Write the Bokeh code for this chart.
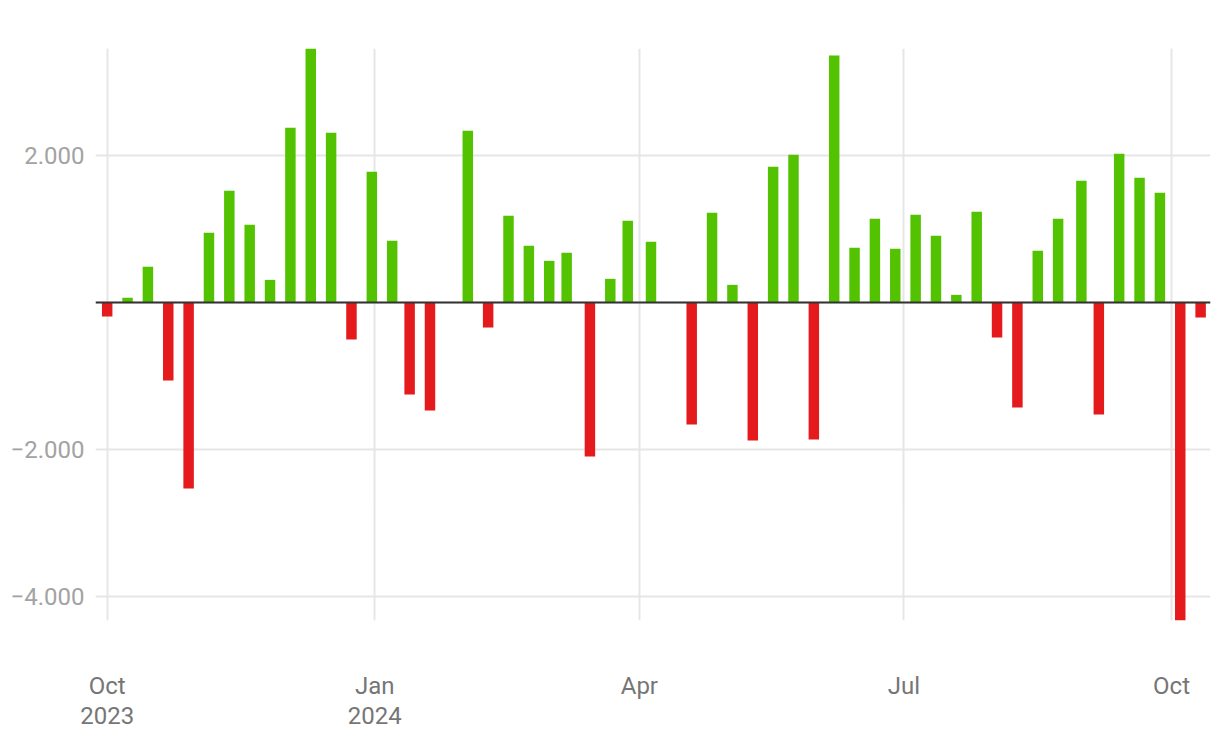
import pandas as pd
from bokeh.plotting import figure
from bokeh.models import Range1d, FixedTicker, Span, ColumnDataSource
from bokeh.embed import file_html
from bokeh.resources import INLINE

# ---- data ----
dates = [
    "2023-10-01", "2023-10-08", "2023-10-15", "2023-10-22", "2023-10-29",
    "2023-11-05", "2023-11-12", "2023-11-19", "2023-11-26", "2023-12-03",
    "2023-12-10", "2023-12-17", "2023-12-24", "2023-12-31", "2024-01-07",
    "2024-01-13", "2024-01-20", "2024-02-02", "2024-02-09", "2024-02-16",
    "2024-02-23", "2024-03-01", "2024-03-07", "2024-03-15", "2024-03-22",
    "2024-03-28", "2024-04-05", "2024-04-19", "2024-04-26", "2024-05-03",
    "2024-05-10", "2024-05-17", "2024-05-24", "2024-05-31", "2024-06-07",
    "2024-06-14", "2024-06-21", "2024-06-28", "2024-07-05", "2024-07-12",
    "2024-07-19", "2024-07-26", "2024-08-02", "2024-08-09", "2024-08-16",
    "2024-08-23", "2024-08-31", "2024-09-06", "2024-09-13", "2024-09-20",
    "2024-09-27", "2024-10-04", "2024-10-11",
]
values = [
    -190, 64, 486, -1061, -2531,
    950, 1523, 1059, 309, 2382,
    3459, 2314, -503, 1782, 841,
    -1252, -1469, 2341, -340, 1182,
    773, 568, 677, -2095, 323,
    1114, 827, -1660, 1223, 241,
    -1878, 1850, 2014, -1864, 3364,
    745, 1141, 732, 1195, 909,
    105, 1236, -476, -1429, 705,
    1141, 1659, -1524, 2027, 1700,
    1495, -4330, -204,
]
xtick_dates = ["2023-10-01", "2024-01-01", "2024-04-01", "2024-07-01", "2024-10-01"]
xtick_labels = ["Oct\n2023", "Jan\n2024", "Apr", "Jul", "Oct"]
ytick_values = [-4000, -2000, 0, 2000]
ytick_labels = ["\u22124.000", "\u22122.000", "", "2.000"]

# ---- build ----
POS = "#53c200"
NEG = "#e41a1c"
DAY = 86400000

def ms(s):
    return int(pd.Timestamp(s).value // 10**6)

src = ColumnDataSource(dict(
    x=[ms(d) for d in dates],
    top=values,
    color=[POS if v >= 0 else NEG for v in values],
))

p = figure(
    width=1220, height=744,
    x_axis_type="datetime",
    output_backend="svg", toolbar_location=None,
    x_range=Range1d(ms("2023-10-01") - 4.02 * DAY, ms("2023-10-01") + 379.4 * DAY),
    y_range=Range1d(-4330, 3460),
    min_border_left=95, min_border_right=10,
    min_border_top=48, min_border_bottom=124,
)
p.outline_line_color = None
p.background_fill_color = "white"
p.border_fill_color = "white"

p.vbar(x="x", top="top", bottom=0, width=3.6 * DAY, color="color",
       line_color=None, source=src)

p.add_layout(Span(location=0, dimension="width", line_color="#333333", line_width=2))

xt = [ms(d) for d in xtick_dates]
p.xaxis.ticker = FixedTicker(ticks=xt)
p.xaxis.major_label_overrides = {t: l for t, l in zip(xt, xtick_labels)}
p.yaxis.ticker = FixedTicker(ticks=ytick_values)
p.yaxis.major_label_overrides = {t: l for t, l in zip(ytick_values, ytick_labels)}

for ax in (p.xaxis, p.yaxis):
    ax.axis_line_color = None
    ax.major_tick_line_color = None
    ax.minor_tick_line_color = None
    ax.major_label_text_font = "Roboto"
    ax.major_label_text_font_size = "24px"

p.xaxis.major_label_text_color = "#767676"
p.yaxis.major_label_text_color = "#a3a3a3"
p.xaxis.major_label_text_line_height = 1.1
p.xaxis.major_label_standoff = 45
p.yaxis.major_label_standoff = 5

p.xgrid.grid_line_color = "#e6e6e6"
p.ygrid.grid_line_color = "#e6e6e6"
p.xgrid.grid_line_width = 2
p.ygrid.grid_line_width = 2

open("out.html", "w").write(file_html(p, INLINE))
